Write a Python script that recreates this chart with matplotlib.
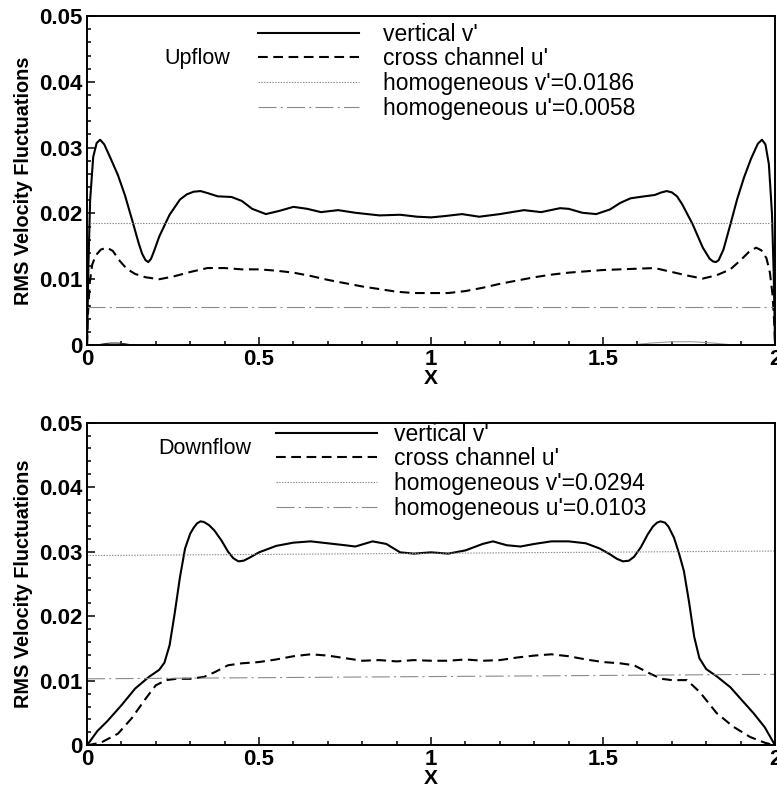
import matplotlib.pyplot as plt
from matplotlib.ticker import MultipleLocator

plt.rcParams['font.family'] = ['Liberation Sans', 'DejaVu Sans']
plt.rcParams['lines.scale_dashes'] = False

# Upflow: vertical v'
x_up_v = [0, 0.004, 0.009, 0.018, 0.028, 0.038, 0.05, 0.07, 0.09, 0.11, 0.13, 0.15, 0.16, 0.17,
          0.178, 0.186, 0.195, 0.21, 0.24, 0.27, 0.29, 0.31, 0.33, 0.35, 0.38, 0.42, 0.45, 0.48,
          0.52, 0.56, 0.60, 0.64, 0.68, 0.73, 0.78, 0.85, 0.91, 0.96, 1.0, 1.04, 1.09, 1.14, 1.20,
          1.27, 1.32, 1.375, 1.40, 1.44, 1.48, 1.52, 1.55, 1.58, 1.62, 1.65, 1.67, 1.685, 1.70,
          1.715, 1.73, 1.76, 1.79, 1.81, 1.82, 1.828, 1.836, 1.85, 1.87, 1.89, 1.91, 1.93, 1.95,
          1.962, 1.972, 1.982, 1.991, 1.996, 2.0]
v_up = [0.0, 0.012, 0.022, 0.0286, 0.0307, 0.0312, 0.0305, 0.0282, 0.0258, 0.0228, 0.0192, 0.0155,
        0.0139, 0.0129, 0.0126, 0.0131, 0.0143, 0.0165, 0.0198, 0.0221, 0.0229, 0.0233, 0.0234,
        0.0231, 0.0226, 0.0225, 0.0219, 0.0207, 0.0199, 0.0204, 0.021, 0.0207, 0.0202, 0.0205,
        0.0201, 0.0197, 0.0198, 0.0195, 0.0194, 0.0196, 0.0199, 0.0195, 0.0199, 0.0205, 0.0202,
        0.0208, 0.0207, 0.0201, 0.0199, 0.0206, 0.0216, 0.0223, 0.0226, 0.0228, 0.0232, 0.0234,
        0.0232, 0.0226, 0.0214, 0.0184, 0.0148, 0.0131, 0.0127, 0.0126, 0.0129, 0.0145, 0.0183,
        0.0222, 0.0255, 0.0283, 0.0306, 0.0312, 0.0305, 0.0275, 0.020, 0.011, 0.0]

# Upflow: cross channel u'
x_up_u = [0, 0.003, 0.008, 0.015, 0.025, 0.04, 0.058, 0.075, 0.095, 0.115, 0.14, 0.17, 0.21, 0.25,
          0.30, 0.35, 0.40, 0.45, 0.50, 0.55, 0.60, 0.65, 0.70, 0.75, 0.80, 0.85, 0.90, 0.95, 1.0,
          1.05, 1.10, 1.15, 1.20, 1.25, 1.30, 1.35, 1.40, 1.45, 1.50, 1.55, 1.60, 1.65, 1.70, 1.75,
          1.79, 1.83, 1.87, 1.90, 1.925, 1.945, 1.96, 1.975, 1.985, 1.993, 1.998, 2.0]
u_up = [0.0, 0.005, 0.0095, 0.0122, 0.0136, 0.0145, 0.0148, 0.0143, 0.0128, 0.0116, 0.0108, 0.0103,
        0.0100, 0.0104, 0.0111, 0.0117, 0.0117, 0.0115, 0.0115, 0.0113, 0.011, 0.0105, 0.0099,
        0.0094, 0.0089, 0.0085, 0.0081, 0.0079, 0.0079, 0.0079, 0.0082, 0.0087, 0.0093, 0.0098,
        0.0103, 0.0107, 0.011, 0.0112, 0.0114, 0.0115, 0.0116, 0.0117, 0.0111, 0.0105, 0.0101,
        0.0106, 0.0115, 0.0129, 0.0142, 0.0148, 0.0144, 0.0132, 0.011, 0.0075, 0.003, 0.0]

# Upflow: faint unlabeled traces lying on the axis
x_up_w1 = [0.03, 0.05, 0.07, 0.09, 0.11, 0.13]
w_up1 = [0.0, 0.0002, 0.0003, 0.0003, 0.0002, 0.0]
x_up_w2 = [1.58, 1.64, 1.70, 1.76, 1.82, 1.88]
w_up2 = [0.0, 0.0003, 0.0005, 0.0005, 0.0003, 0.0]

# Downflow: vertical v'
x_dn_v = [0, 0.03, 0.06, 0.1, 0.14, 0.18, 0.21, 0.225, 0.24, 0.255, 0.27, 0.285, 0.30, 0.31, 0.32,
          0.33, 0.34, 0.355, 0.37, 0.39, 0.41, 0.425, 0.44, 0.455, 0.47, 0.50, 0.55, 0.60, 0.65,
          0.70, 0.75, 0.78, 0.83, 0.87, 0.91, 0.95, 1.0, 1.05, 1.10, 1.15, 1.18, 1.22, 1.26, 1.30,
          1.35, 1.40, 1.45, 1.49, 1.52, 1.54, 1.558, 1.575, 1.59, 1.61, 1.63, 1.645, 1.657, 1.667,
          1.68, 1.69, 1.706, 1.72, 1.735, 1.75, 1.765, 1.78, 1.80, 1.83, 1.87, 1.90, 1.937, 1.97,
          2.0]
v_dn = [0.0, 0.0022, 0.0038, 0.0062, 0.0088, 0.0106, 0.0117, 0.0128, 0.0155, 0.0205, 0.026, 0.0305,
        0.0328, 0.0337, 0.0344, 0.0347, 0.0346, 0.0341, 0.0333, 0.0318, 0.0300, 0.0290, 0.0285,
        0.0286, 0.0290, 0.0299, 0.0309, 0.0314, 0.0316, 0.0313, 0.031, 0.0308, 0.0316, 0.0312,
        0.0299, 0.0297, 0.0299, 0.0297, 0.0302, 0.0312, 0.0316, 0.031, 0.0308, 0.0312, 0.0316,
        0.0316, 0.0313, 0.0305, 0.0296, 0.0289, 0.0285, 0.0286, 0.0292, 0.0307, 0.0327, 0.0339,
        0.0345, 0.0347, 0.0345, 0.0339, 0.0322, 0.0299, 0.027, 0.0222, 0.0168, 0.0135, 0.0118,
        0.0107, 0.009, 0.0072, 0.005, 0.0028, 0.0]

# Downflow: cross channel u'
x_dn_u = [0, 0.04, 0.09, 0.13, 0.17, 0.20, 0.23, 0.26, 0.30, 0.34, 0.37, 0.41, 0.45, 0.50, 0.55,
          0.60, 0.65, 0.70, 0.75, 0.80, 0.85, 0.90, 0.95, 1.0, 1.05, 1.10, 1.15, 1.20, 1.25, 1.30,
          1.35, 1.40, 1.45, 1.50, 1.55, 1.59, 1.637, 1.67, 1.70, 1.744, 1.782, 1.83, 1.878, 1.927,
          1.97, 2.0]
u_dn = [0.0, 0.0004, 0.0018, 0.0042, 0.0072, 0.0093, 0.0101, 0.0103, 0.0103, 0.0106, 0.0113,
        0.0124, 0.0127, 0.0129, 0.0133, 0.0138, 0.0141, 0.0139, 0.0135, 0.0131, 0.0132, 0.013,
        0.0132, 0.0131, 0.0131, 0.0133, 0.0131, 0.0132, 0.0136, 0.0139, 0.0141, 0.0138, 0.0133,
        0.0129, 0.0127, 0.0124, 0.0111, 0.0103, 0.0101, 0.0101, 0.0082, 0.005, 0.0029, 0.0013,
        0.0004, 0.0]

# homogeneous reference levels (end points across the channel)
x_ref = [0, 2]
hv_up = [0.0186, 0.0186]
hu_up = [0.0058, 0.0058]
hv_dn = [0.0294, 0.0301]
hu_dn = [0.0103, 0.0110]

labels_up = ["vertical v'", "cross channel u'", "homogeneous v'=0.0186", "homogeneous u'=0.0058"]
labels_dn = ["vertical v'", "cross channel u'", "homogeneous v'=0.0294", "homogeneous u'=0.0103"]
yticks = [0, 0.01, 0.02, 0.03, 0.04, 0.05]
ytick_labels = ['0', '0.01', '0.02', '0.03', '0.04', '0.05']
xticks = [0, 0.5, 1, 1.5, 2]
xtick_labels = ['0', '0.5', '1', '1.5', '2']

fig = plt.figure(figsize=(7.77, 7.87), dpi=100)
ax1 = fig.add_axes([0.112, 0.5616, 0.8855, 0.418])
ax2 = fig.add_axes([0.112, 0.053, 0.8855, 0.4100])


def draw(ax, xv, v, xu, u, hv, hu, labels, tag, tag_xy, leg_xy, textpad):
    ax.plot(xv, v, color='black', lw=1.5, label=labels[0])
    ax.plot(xu, u, color='black', lw=1.5, dashes=(7, 4), label=labels[1])
    ax.plot(x_ref, hv, color='#8a8a8a', lw=0.8, dashes=(1, 1), label=labels[2])
    ax.plot(x_ref, hu, color='#8a8a8a', lw=0.8, dashes=(13, 3, 1.5, 3), label=labels[3])

    ax.set_xlim(0, 2)
    ax.set_ylim(0, 0.05)
    ax.set_xticks(xticks)
    ax.set_xticklabels(xtick_labels)
    ax.set_yticks(yticks)
    ax.set_yticklabels(ytick_labels)
    ax.xaxis.set_minor_locator(MultipleLocator(0.1))
    ax.yaxis.set_minor_locator(MultipleLocator(0.002))
    ax.tick_params(which='both', direction='in', top=False, right=False, width=1.1)
    ax.tick_params(which='major', length=6, labelsize=16, pad=3)
    ax.tick_params(which='minor', length=3)
    for lab in ax.get_xticklabels() + ax.get_yticklabels():
        lab.set_fontweight('bold')
    for s in ax.spines.values():
        s.set_linewidth(1.4)

    ax.set_xlabel('X', fontsize=15, fontweight='bold', labelpad=-1)
    ax.set_ylabel('RMS Velocity Fluctuations', fontsize=14.3, fontweight='bold')
    ax.yaxis.set_label_coords(-0.078, 0.5)

    ax.text(tag_xy[0], tag_xy[1], tag, transform=ax.transAxes, fontsize=15.5, va='center')

    ax.legend(loc='upper left', bbox_to_anchor=leg_xy, frameon=False, fontsize=16.5,
              handlelength=4.4, handletextpad=textpad, labelspacing=0.08,
              borderpad=0, borderaxespad=0)


draw(ax1, x_up_v, v_up, x_up_u, u_up, hv_up, hu_up, labels_up, 'Upflow', (0.113, 0.872),
     (0.249, 0.98), 1.05)
ax1.plot(x_up_w1, w_up1, color='#333333', lw=0.8)
ax1.plot(x_up_w2, w_up2, color='#999999', lw=0.8)
draw(ax2, x_dn_v, v_dn, x_dn_u, u_dn, hv_dn, hu_dn, labels_dn, 'Downflow', (0.103, 0.92),
     (0.275, 1.0), 0.75)

fig.savefig('out.png', dpi=100)
